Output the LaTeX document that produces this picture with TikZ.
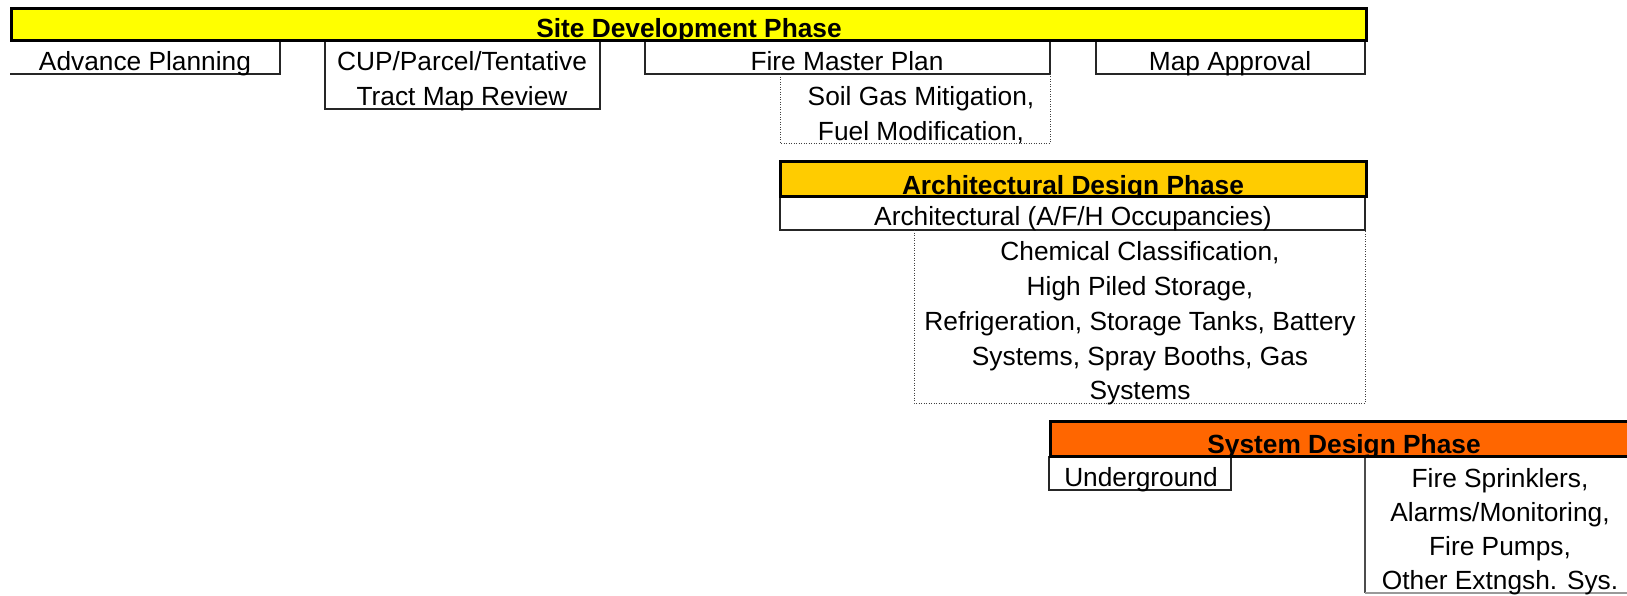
\documentclass[tikz,border=0pt]{standalone}
\usepackage{fontspec}
\setmainfont{Liberation Sans}
\definecolor{siteyellow}{HTML}{FFFF00}
\definecolor{archgold}{HTML}{FFCC00}
\definecolor{sysorange}{HTML}{FF6600}
\tikzset{
  box/.style={draw=black!85, line width=1.4pt},
  dotbox/.style={draw=black!75, line width=1pt, dash pattern=on 1pt off 1.5pt},
  barframe/.style={draw=black, line width=3pt},
  txt/.style={inner sep=0pt, anchor=base, font=\fontsize{26.3}{35}\selectfont},
  btxt/.style={inner sep=0pt, anchor=base, font=\fontsize{26.3}{35}\selectfont\bfseries},
  uline/.style={line width=2pt, black},
}
\begin{document}
\begin{tikzpicture}[x=1pt,y=-1pt]
\useasboundingbox (0,0) rectangle (1627,595);
% ---------- Site Development Phase ----------
\fill[siteyellow] (11,8.5) rectangle (1366,40);
\begin{scope}
  \clip (11,8.5) rectangle (1366,40);
  \node[btxt] (site) at (689,37) {Site Development Phase};
  \draw[uline] ([yshift=-2.6pt]site.base west) -- ([yshift=-2.6pt]site.base east);
\end{scope}
\draw[box] (10,74) -- (280,74) -- (280,40);
\draw[box] (325,40) -- (325,109) -- (600,109) -- (600,40);
\draw[box] (645,40) -- (645,74) -- (1050,74) -- (1050,40);
\draw[box] (1096,40) -- (1096,74) -- (1365,74) -- (1365,40);
\draw[dotbox] (780,74) -- (780,143) -- (1050,143) -- (1050,74);
\draw[barframe] (11,8.5) rectangle (1366,40);
\node[txt] (adv) at (145,70) {Advance Planning};
\node[txt] (cup1) at (462,70) {CUP/Parcel/Tentative};
\node[txt] (cup2) at (462,105) {Tract Map Review};
\node[txt] (fmp) at (847,70) {Fire Master Plan};
\node[txt] (map) at (1230,70) {Map Approval};
\node[txt] (soil1) at (921,105) {Soil Gas Mitigation,};
\node[txt] (soil2) at (921,140) {Fuel Modification,};
% ---------- Architectural Design Phase ----------
\fill[archgold] (780,161) rectangle (1366,196);
\begin{scope}
  \clip (780,161) rectangle (1366,196);
  \node[btxt] (arch) at (1073,194) {Architectural Design Phase};
  \draw[uline] ([yshift=-2.6pt]arch.base west) -- ([yshift=-2.6pt]arch.base east);
\end{scope}
\draw[box] (780,196) -- (780,230) -- (1365,230) -- (1365,196);
\draw[dotbox] (914,230) -- (914,403) -- (1365,403) -- (1365,230);
\draw[barframe] (780,161) rectangle (1366,196);
\node[txt] (archocc) at (1073,225) {Architectural (A/F/H Occupancies)};
\node[txt] (chem1) at (1140,260) {Chemical Classification,};
\node[txt] (chem2) at (1140,295) {High Piled Storage,};
\node[txt] (chem3) at (1140,330) {Refrigeration, Storage Tanks, Battery};
\node[txt] (chem4) at (1140,365) {Systems, Spray Booths, Gas};
\node[txt] (chem5) at (1140,399) {Systems};
% ---------- System Design Phase ----------
\fill[sysorange] (1050,421.5) rectangle (1640,456);
\begin{scope}
  \clip (1050,421.5) rectangle (1640,456);
  \node[btxt] (sys) at (1344,453) {System Design Phase};
  \draw[uline] ([yshift=-2.6pt]sys.base west) -- ([yshift=-2.6pt]sys.base east);
\end{scope}
\draw[box] (1049,456) -- (1049,490) -- (1231,490) -- (1231,456);
\draw[box, draw=black!70] (1365,456) -- (1365,593);
\draw[draw=black!40, line width=1.2pt] (1365,593) -- (1627,593);
\draw[barframe] (1640,421.5) -- (1050,421.5) -- (1050,456) -- (1640,456);
\node[txt] (und) at (1141,486) {Underground};
\node[txt] (fs1) at (1500,487) {Fire Sprinklers,};
\node[txt] (fs2) at (1500,521) {Alarms/Monitoring,};
\node[txt] (fs3) at (1500,555) {Fire Pumps,};
\node[txt] (fs4) at (1500,589) {Other Extngsh. Sys.};
\end{tikzpicture}
\end{document}
